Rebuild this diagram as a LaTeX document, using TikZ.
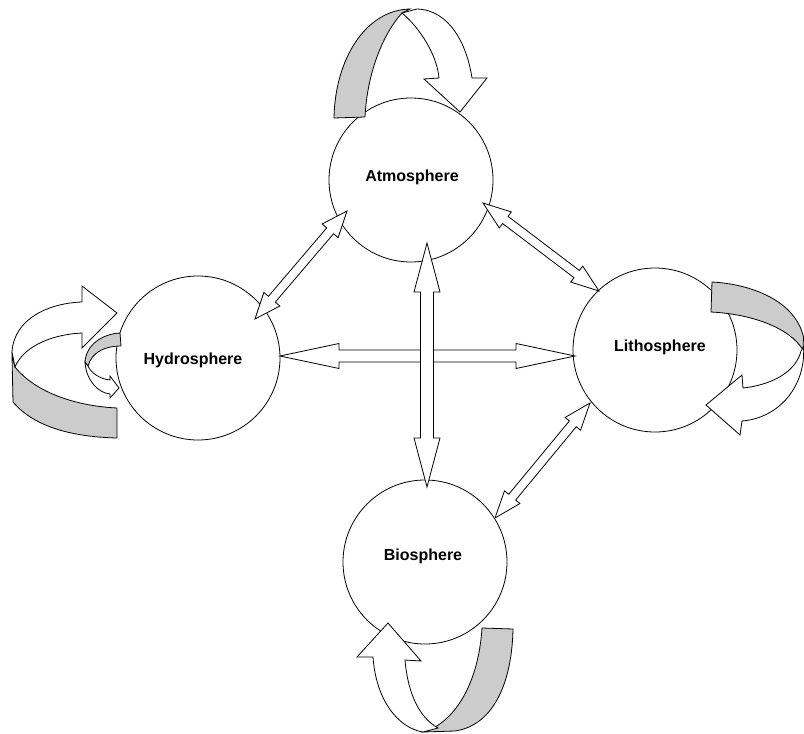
\documentclass[tikz,border=0pt]{standalone}
\usepackage{fontspec}
\setmainfont{Liberation Sans}
\usetikzlibrary{calc}
\tikzset{
  sphere/.style={circle, draw, line width=0.8pt, minimum size=164pt, inner sep=0pt, font=\bfseries\fontsize{16}{19}\selectfont},
  barrow/.style={draw, fill=white, line width=0.8pt, line join=miter},
  ribfront/.style={draw, fill=white, line width=0.8pt},
  ribback/.style={draw, fill=gray!40, line width=0.8pt}
}
\newcommand\blockarr[5]{%
  \coordinate (#1#2ha) at ($(#1)!#5!(#2)$);
  \coordinate (#1#2hb) at ($(#2)!#5!(#1)$);
  \draw[barrow] (#1) -- ($(#1#2ha)!#4!90:(#2)$) -- ($(#1#2ha)!#3!90:(#2)$)
    -- ($(#1#2hb)!#3!-90:(#1)$) -- ($(#1#2hb)!#4!-90:(#1)$) -- (#2)
    -- ($(#1#2hb)!#4!90:(#1)$) -- ($(#1#2hb)!#3!90:(#1)$)
    -- ($(#1#2ha)!#3!-90:(#2)$) -- ($(#1#2ha)!#4!-90:(#2)$) -- cycle;
}
\begin{document}
\begin{tikzpicture}[x=1pt, y=-1pt]
\useasboundingbox (0,0) rectangle (804,734);

% spheres
\node[sphere] (atm) at (411,180) {};
\node[sphere] (hyd) at (198,358) {};
\node[sphere] (lit) at (655,350) {};
\node[sphere] (bio) at (425,562) {};
\node[font=\bfseries\fontsize{16}{19}\selectfont] (atmt) at (412,177) {Atmosphere};
\node[font=\bfseries\fontsize{16}{19}\selectfont] (hydt) at (193,360) {Hydrosphere};
\node[font=\bfseries\fontsize{16}{19}\selectfont] (litt) at (660,347) {Lithosphere};
\node[font=\bfseries\fontsize{16}{19}\selectfont] (biot) at (423,556) {Biosphere};

% arrow end points
\coordinate (hA) at (280,356);
\coordinate (hB) at (575,356);
\coordinate (vA) at (427,243);
\coordinate (vB) at (427,487);
\coordinate (dA) at (347,211);
\coordinate (dB) at (255,319);
\coordinate (eA) at (483,203);
\coordinate (eB) at (599,291);
\coordinate (fA) at (590,403);
\coordinate (fB) at (495,518);

\blockarr{hA}{hB}{6pt}{12.5pt}{59pt}
\blockarr{vA}{vB}{6.5pt}{13pt}{49pt}
\blockarr{dA}{dB}{4.5pt}{10.5pt}{26pt}
\blockarr{eA}{eB}{4.5pt}{10pt}{28pt}
\blockarr{fA}{fB}{4.5pt}{10pt}{27pt}

% Atmosphere self-loop
\draw[ribback] (334,118) .. controls (335,60) and (365,10) .. (410,9) -- (402,13)
  .. controls (382,35) and (367,75) .. (365,117) -- cycle;
\draw[ribfront] (402,13) .. controls (420,28) and (437,55) .. (439,78) -- (424,79)
  -- (460,112) -- (487,78) -- (472,78) .. controls (467,45) and (450,10) .. (417,9) -- cycle;

% Hydrosphere self-loop
\draw[ribback] (12,355) -- (13,402) .. controls (35,428) and (75,437) .. (117,438)
  -- (117,408) .. controls (75,406) and (35,392) .. (15,367) -- cycle;
\draw[ribfront] (12,352) .. controls (14,318) and (50,303) .. (82,302) -- (82,286)
  -- (117,313) -- (82,348) -- (82,333) .. controls (45,335) and (22,350) .. (15,367) -- cycle;
\draw[ribback] (120,333) -- (121,346) .. controls (105,346) and (92,352) .. (88,366)
  -- (85,362) .. controls (86,345) and (102,334) .. (120,333) -- cycle;
\draw[ribfront] (85,362) .. controls (86,380) and (98,393) .. (110,394) -- (110,398)
  -- (119,388) -- (110,376) -- (110,380) .. controls (100,379) and (91,373) .. (88,366) -- cycle;

% Lithosphere self-loop
\draw[ribback] (712,282) .. controls (750,284) and (795,300) .. (803.5,337) -- (803,350)
  .. controls (790,328) and (752,314) .. (711,312) -- cycle;
\draw[ribfront] (803.5,347) .. controls (806,385) and (780,418) .. (742,421) -- (740,435)
  -- (706,405) -- (742,375) -- (743,388) .. controls (778,384) and (797,368) .. (801,351) -- cycle;

% Biosphere self-loop
\draw[ribback] (482,628) -- (513,629) .. controls (512,680) and (495,725) .. (455,731)
  -- (423,732) .. controls (450,725) and (478,690) .. (482,628) -- cycle;
\draw[ribfront] (357,657) -- (388,623) -- (421,661) -- (405,660)
  .. controls (408,695) and (420,718) .. (438,728) -- (423,732)
  .. controls (398,728) and (376,700) .. (373,657) -- cycle;
\end{tikzpicture}
\end{document}
